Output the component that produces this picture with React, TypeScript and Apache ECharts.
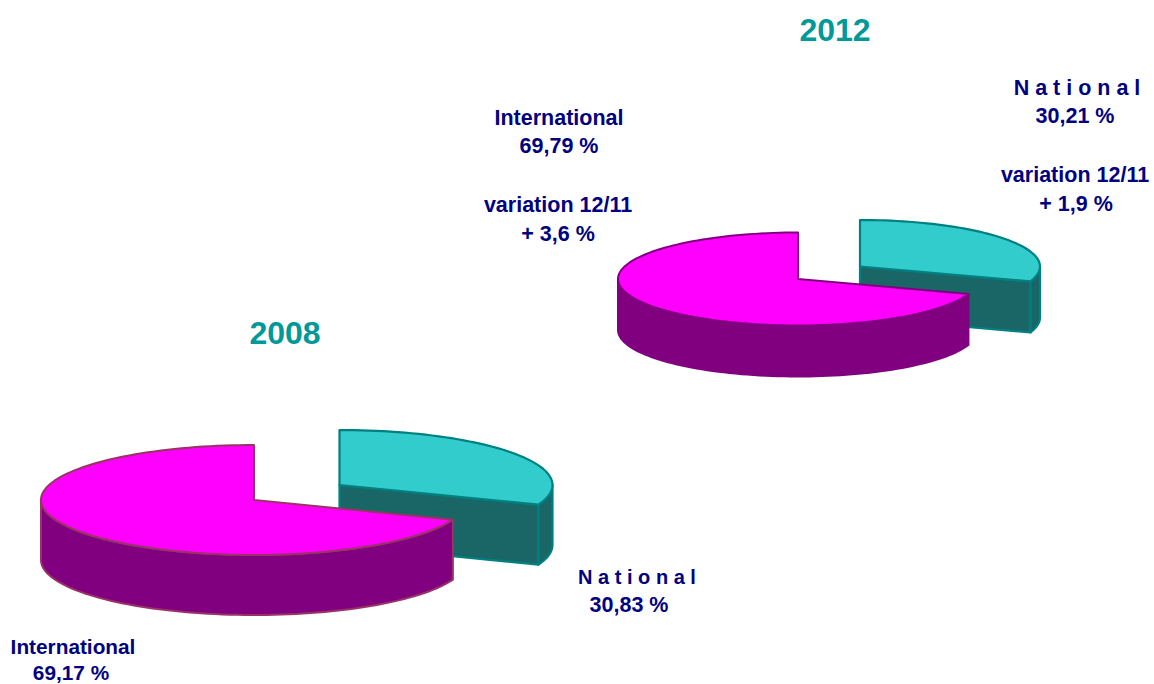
import React, { useEffect, useRef } from "react";
import * as echarts from "echarts";

const categories = ["National", "International"];
const shares2008 = [30.83, 69.17];
const shares2012 = [30.21, 69.79];
const years = ["2008", "2012"];
const variation2012 = ["+ 1,9 %", "+ 3,6 %"];
const variationLabel = "variation 12/11";

const NAVY = "#000080";
const TITLE = "#009999";
const FONT = '"Liberation Sans", Arial, sans-serif';

type Pie = { cx: number; cy: number; dx: number; dy: number; rx: number; ry: number; depth: number; pinkStroke: string; width: number };
const pie2008: Pie = { cx: 254, cy: 500, dx: 85.5, dy: -15, rx: 213, ry: 55, depth: 60, pinkStroke: "#993366", width: 2 };
const pie2012: Pie = { cx: 798, cy: 279, dx: 62, dy: -12.5, rx: 180, ry: 46.5, depth: 51, pinkStroke: "#800080", width: 2 };

const pt = (p: Pie, ox: number, oy: number, deg: number, drop = 0) => {
  const a = (deg * Math.PI) / 180;
  return [ox + p.rx * Math.sin(a), oy - p.ry * Math.cos(a) + drop];
};
const arc = (p: Pie, ox: number, oy: number, from: number, to: number, drop = 0) => {
  const out: number[][] = [];
  const n = Math.max(2, Math.ceil(Math.abs(to - from) / 2));
  for (let i = 0; i <= n; i++) out.push(pt(p, ox, oy, from + ((to - from) * i) / n, drop));
  return out;
};

const pieSeries = (name: string, values: number[], p: Pie) => ({
  type: "custom",
  name,
  coordinateSystem: "none",
  silent: true,
  data: values.map((v) => [v]),
  renderItem: (params: any, api: any) => {
    const share = api.value(0) as number;
    const isNational = params.dataIndex === 0;
    const nationalEnd = (values[0] / 100) * 360;
    if (isNational) {
      const ox = p.cx + p.dx;
      const oy = p.cy + p.dy;
      const end = (share / 100) * 360;
      const stroke = "#008080";
      const style = (fill: string) => ({ fill, stroke, lineWidth: 2.2, lineJoin: "round" });
      const cut = [[ox, oy], pt(p, ox, oy, end), pt(p, ox, oy, end, p.depth), [ox, oy + p.depth]];
      const wall = [...arc(p, ox, oy, 90, end), ...arc(p, ox, oy, end, 90, p.depth)];
      const top = [[ox, oy], ...arc(p, ox, oy, 0, end)];
      return {
        type: "group",
        children: [
          { type: "polygon", shape: { points: cut }, style: style("#1A6666") },
          { type: "polygon", shape: { points: wall }, style: style("#1A6666") },
          { type: "polygon", shape: { points: top }, style: style("#33CCCC") },
        ],
      };
    }
    const ox = p.cx;
    const oy = p.cy;
    const start = nationalEnd;
    const stroke = p.pinkStroke;
    const style = (fill: string) => ({ fill, stroke, lineWidth: p.width, lineJoin: "round" });
    const wall = [...arc(p, ox, oy, start, 270), ...arc(p, ox, oy, 270, start, p.depth)];
    const top = [[ox, oy], ...arc(p, ox, oy, start, start + (share / 100) * 360)];
    return {
      type: "group",
      children: [
        { type: "polygon", shape: { points: wall }, style: style("#800080") },
        { type: "polygon", shape: { points: top }, style: style("#FF00FF") },
      ],
    };
  },
});

const pct = (v: number) => `${v.toFixed(2).replace(".", ",")} %`;
const label = (text: string, x: number, y: number, fontSize = 21.5, fill = NAVY) => ({
  type: "text",
  x,
  y,
  style: { text, fontFamily: FONT, fontWeight: "bold", fontSize, fill, align: "center", verticalAlign: "middle" },
});
const spaced = (s: string) => s.split("").join(" ");

export default function App() {
  const ref = useRef<HTMLDivElement>(null);
  useEffect(() => {
    const chart = echarts.init(ref.current!, undefined, { renderer: "svg" });
    chart.setOption({
      animation: false,
      backgroundColor: "#ffffff",
      series: [pieSeries("2012", shares2012, pie2012), pieSeries("2008", shares2008, pie2008)],
      graphic: [
        label(years[1], 835, 30, 32, TITLE),
        label(years[0], 285, 333, 32, TITLE),
        label(categories[1], 559, 118),
        label(pct(shares2012[1]), 559, 146),
        label(variationLabel, 558, 205),
        label(variation2012[1], 558, 234),
        label(spaced(categories[0]), 1077, 88),
        label(pct(shares2012[0]), 1075, 116),
        label(variationLabel, 1075, 175),
        label(variation2012[0], 1076, 204),
        label(spaced(categories[0]), 637, 577, 20),
        label(pct(shares2008[0]), 629, 605),
        label(categories[1], 73, 646, 20.8),
        label(pct(shares2008[1]), 71, 672, 20.8),
      ],
    });
    return () => chart.dispose();
  }, []);
  return <div ref={ref} style={{ position: "absolute", left: 0, top: 0, width: 1154, height: 684 }} />;
}
